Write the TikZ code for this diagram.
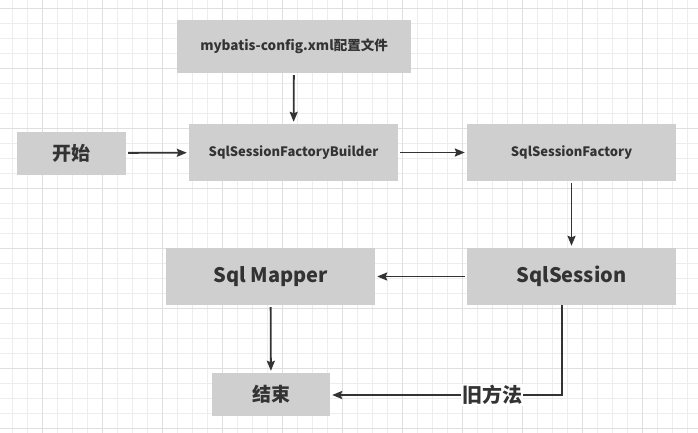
\documentclass[tikz,border=0pt]{standalone}
\usepackage{fontspec}
\setmainfont{Noto Sans CJK SC}
\usetikzlibrary{arrows.meta}
\definecolor{boxgray}{HTML}{CFCFCF}
\definecolor{inkgray}{HTML}{333333}
\definecolor{gridminor}{HTML}{EDEDED}
\definecolor{gridmajor}{HTML}{DFDFDF}
\tikzset{
  box/.style={rectangle, fill=boxgray, text=inkgray, font=\bfseries, inner sep=0pt},
  flow/.style={draw=inkgray, line width=1.8pt, -{Stealth[length=10pt,width=8pt,inset=1.5pt]},
    shorten >=2pt, shorten <=2pt},
}
\begin{document}
\begin{tikzpicture}[x=1pt,y=-1pt]
				% Background and grid:
				\useasboundingbox (0,0) rectangle (698,433);
				\fill[white] (0,0) rectangle (698,433);
				\foreach \gx in {12,27,...,687} \draw[gridminor, line width=0.9pt] (\gx,0) -- (\gx,433);
				\foreach \gy in {8,23,...,428} \draw[gridminor, line width=0.9pt] (0,\gy) -- (698,\gy);
				\foreach \gx in {42,102,...,642} \draw[gridmajor, line width=0.9pt] (\gx,0) -- (\gx,433);
				\foreach \gy in {8,68,...,428} \draw[gridmajor, line width=0.9pt] (0,\gy) -- (698,\gy);
				% Boxes:
				\node[box, minimum width=234pt, minimum height=53pt, font=\bfseries\fontsize{13.5}{16}\selectfont] (config) at (294,46.5) {mybatis-config.xml配置文件};
				\node[box, minimum width=109pt, minimum height=43pt, font=\bfseries\fontsize{19}{22}\selectfont] (start) at (71.5,153) {开始};
				\node[box, minimum width=209pt, minimum height=57pt, font=\bfseries\fontsize{13}{16}\selectfont] (builder) at (293.5,152.5) {SqlSessionFactoryBuilder};
				\node[box, minimum width=209pt, minimum height=57pt, font=\bfseries\fontsize{13}{16}\selectfont] (factory) at (571.5,152.5) {SqlSessionFactory};
				\node[box, minimum width=209pt, minimum height=57pt, font=\bfseries\fontsize{20}{24}\selectfont] (session) at (571.5,276.5) {\raisebox{-2pt}{SqlSession}};
				\node[box, minimum width=209pt, minimum height=57pt, font=\bfseries\fontsize{20}{24}\selectfont] (mapper) at (270.5,276.5) {\raisebox{-2pt}{Sql Mapper}};
				\node[box, minimum width=118pt, minimum height=43pt, font=\bfseries\fontsize{19}{22}\selectfont] (finish) at (271,394.5) {结束};
				% Connectors:
				\draw[flow] (config) -- (builder);
				\draw[flow] (start) -- (builder);
				\draw[flow] (builder) -- (factory);
				\draw[flow] (factory) -- (session);
				\draw[flow] (session) -- (mapper);
				\draw[flow] (mapper) -- (finish);
				\coordinate (turn) at (562,395);
				\draw[flow, shorten <=0pt] ([xshift=-9.5pt]session.south) -- (turn) -- node[pos=0.3, fill=white, text=inkgray, inner sep=1pt, font=\bfseries\fontsize{20}{24}\selectfont] (oldway) {旧方法} (turn -| finish.east);
			\end{tikzpicture}
\end{document}
